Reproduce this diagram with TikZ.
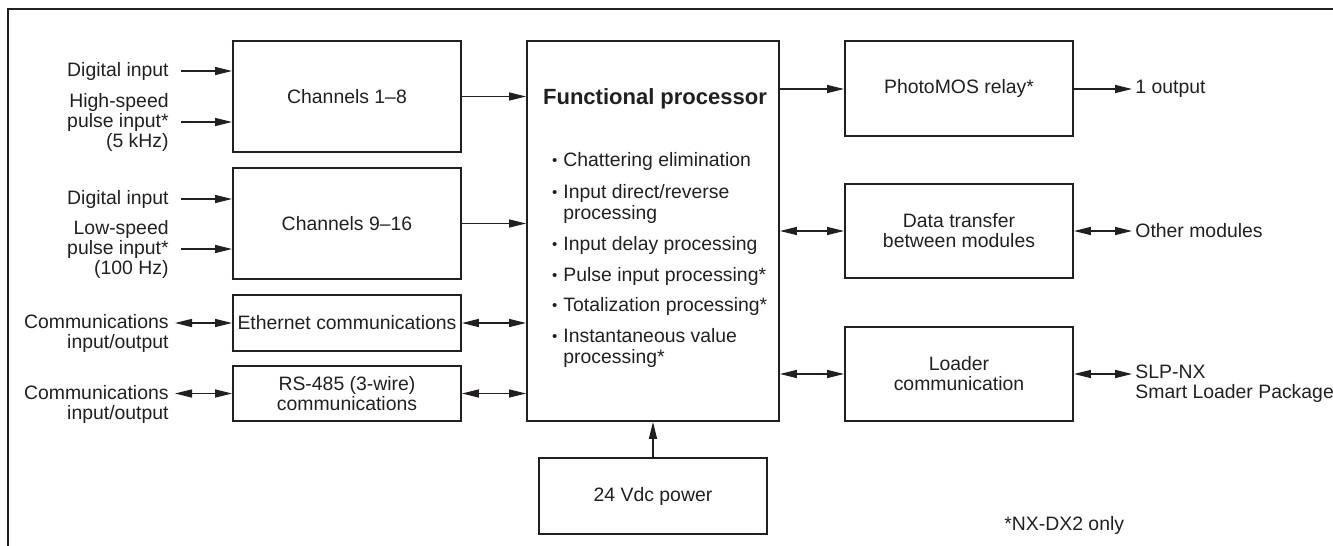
\documentclass[tikz,border=0pt]{standalone}
\usepackage{fontspec}
\setmainfont{Liberation Sans}
\usepackage{tikz}
\usetikzlibrary{arrows.meta}
\definecolor{ink}{RGB}{35,31,32}
\newcommand{\bul}{\llap{\raisebox{0.3pt}{\fontsize{7.5}{7.5}\selectfont\textbullet}\hspace{3pt}}}

\begin{document}
\begin{tikzpicture}[x=0.5pt,y=-0.5pt,>={Triangle[length=8.5pt,width=4pt]},
  every node/.style={font=\fontsize{9.7}{10}\selectfont, text=ink},
  blk/.style={draw=ink, line width=0.9pt, inner sep=0pt, align=center, minimum width=114pt},
  lbl/.style={inner sep=0pt, align=right, anchor=east},
  outlbl/.style={inner sep=0pt, align=left, anchor=west},
  con/.style={draw=ink, line width=0.65pt}]
\useasboundingbox (0,0) rectangle (1333,546);
% Frame
\draw[draw=ink, line width=0.8pt] (8,546) -- (8,9) -- (1333,9);
% Input blocks
\node[blk, minimum height=55.5pt] (ch1) at (347,96.5) {Channels 1--8};
\node[blk, minimum height=55.5pt] (ch2) at (347,223.5) {Channels 9--16};
\node[blk, minimum height=28pt] (eth) at (347,323) {Ethernet communications};
\node[blk, minimum height=27.5pt] (rs) at (347,393.5) {RS-485 (3-wire)\\communications};
% Processor and power
\node[blk, minimum width=126pt, minimum height=190pt] (fp) at (653,231) {};
\node[blk, minimum height=38pt] (pwr) at (653,496) {24 Vdc power};
\node[font=\fontsize{11}{13}\selectfont\bfseries] (fptitle) at (655,99) {Functional processor};
\foreach \yy/\txt in {166/{\bul Chattering elimination}, 198/{\bul Input direct/reverse},
    219/{processing}, 250/{\bul Input delay processing}, 281/{\bul Pulse input processing*},
    311/{\bul Totalization processing*}, 342/{\bul Instantaneous value}, 363/{processing*}}
  \node[anchor=base west, inner sep=0pt] (item\yy) at (563,\yy) {\txt};
% Output blocks
\node[blk, minimum height=47.5pt] (relay) at (959,88.5) {PhotoMOS relay*};
\node[blk, minimum height=47pt] (xfer) at (959,231) {Data transfer\\between modules};
\node[blk, minimum height=47pt] (loader) at (959,374) {Loader\\communication};
% Left labels
\node[lbl] (di1) at (169,71) {Digital input};
\node[lbl] (hs) at (169,122) {High-speed\\pulse input*\\(5 kHz)};
\node[lbl] (di2) at (169,199) {Digital input};
\node[lbl] (ls) at (169,249) {Low-speed\\pulse input*\\(100 Hz)};
\node[lbl] (com1) at (169,333) {Communications\\input/output};
\node[lbl] (com2) at (169,404) {Communications\\input/output};
% Right labels
\node[outlbl] (o1) at (1135,89) {1 output};
\node[outlbl] (o2) at (1135,231) {Other modules};
\node[outlbl] (o3) at (1135,384) {SLP-NX\\Smart Loader Package};
\node[outlbl] (note) at (1004,525) {*NX-DX2 only};
% Connectors
\draw[con,->,shorten <=6pt] (di1.east) -- (di1.east -| ch1.west);
\draw[con,->,shorten <=6pt] (hs.east) -- (hs.east -| ch1.west);
\draw[con,->,shorten <=6pt] (di2.east) -- (di2.east -| ch2.west);
\draw[con,->,shorten <=6pt] (ls.east) -- (ls.east -| ch2.west);
\draw[con,<->,shorten <=3pt] (com1.east |- eth) -- (eth.west);
\draw[con,<->,shorten <=3pt] (com2.east |- rs) -- (rs.west);
\draw[con,->] (ch1.east) -- (ch1.east -| fp.west);
\draw[con,->] (ch2.east) -- (ch2.east -| fp.west);
\draw[con,<->] (eth.east) -- (eth.east -| fp.west);
\draw[con,<->] (rs.east) -- (rs.east -| fp.west);
\draw[con,->] (pwr.north) -- (fp.south);
\draw[con,->] (o1.west -| fp.east) -- (relay.west |- o1.west);
\draw[con,<->] (xfer.west -| fp.east) -- (xfer.west);
\draw[con,<->] (loader.west -| fp.east) -- (loader.west);
\draw[con,->,shorten >=1.5pt] (relay.east |- o1.west) -- (o1.west);
\draw[con,<->,shorten >=1.5pt] (xfer.east) -- (o2.west);
\draw[con,<->,shorten >=1.5pt] (loader.east) -- (loader.east -| o3.west);
\end{tikzpicture}
\end{document}
